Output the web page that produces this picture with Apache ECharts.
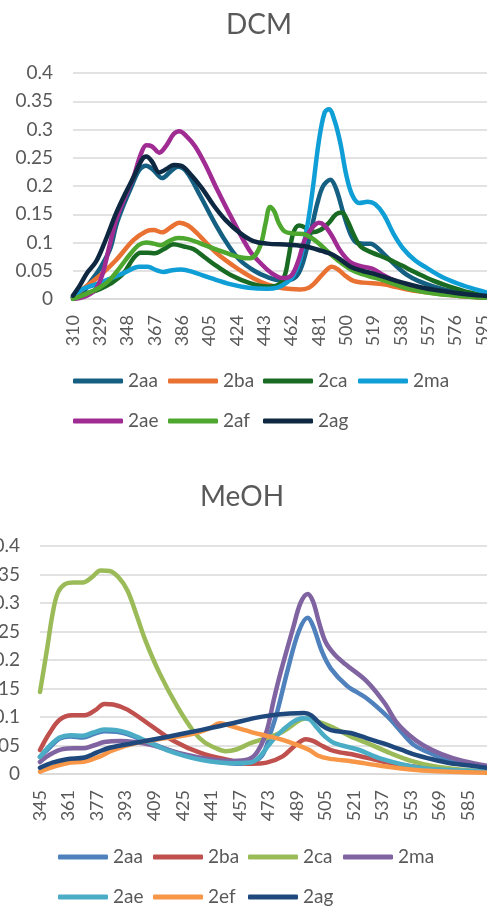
<!DOCTYPE html>
<html>
<head>
<meta charset="utf-8">
<title>DCM / MeOH</title>
<script src="https://cdn.jsdelivr.net/npm/echarts@6/dist/echarts.min.js"></script>
<style>
html,body{margin:0;padding:0;background:#fff}
#chart{width:487px;height:906px}
</style>
</head>
<body>
<div id="chart"></div>
<script>
// wavelength range (nm) of each panel
var dcmStart = 310, dcmEnd = 600;
var meohStart = 345, meohEnd = 600;
var dcmNames = ['2aa', '2ba', '2ca', '2ma', '2ae', '2af', '2ag'];
var meohNames = ['2aa', '2ba', '2ca', '2ma', '2ae', '2ef', '2ag'];
var yTicks = [0, 0.4, 0.05];

// DCM spectra, [nm, absorbance]
var dcm2aa = [[310,0.003],[317,0.012],[322,0.03],[329,0.055],[336,0.09],[340,0.13],[345,0.165],[350,0.195],[356,0.228],[361,0.236],[366,0.228],[372,0.214],[378,0.226],[383,0.234],[389,0.225],[398,0.185],[410,0.128],[418,0.095],[426,0.069],[436,0.05],[445,0.039],[455,0.033],[461,0.034],[466,0.042],[470,0.065],[475,0.115],[480,0.17],[484,0.2],[489,0.211],[493,0.195],[498,0.152],[503,0.115],[507,0.1],[512,0.098],[517,0.098],[522,0.09],[528,0.075],[535,0.058],[542,0.043],[550,0.032],[561,0.022],[575,0.013],[590,0.008],[600,0.005]];
var dcm2ba = [[310,0.003],[319,0.022],[329,0.042],[340,0.069],[352,0.104],[361,0.12],[366,0.122],[372,0.118],[378,0.127],[384,0.135],[390,0.13],[396,0.117],[410,0.081],[426,0.051],[436,0.036],[445,0.026],[456,0.019],[468,0.017],[474,0.02],[478,0.028],[484,0.045],[490,0.057],[494,0.053],[500,0.04],[505,0.032],[512,0.029],[526,0.026],[535,0.021],[549,0.014],[565,0.009],[580,0.005],[600,0.002]];
var dcm2ca = [[310,0.002],[320,0.01],[329,0.018],[336,0.027],[345,0.045],[352,0.072],[357,0.082],[362,0.082],[367,0.081],[373,0.088],[380,0.097],[387,0.093],[394,0.088],[402,0.073],[410,0.058],[420,0.042],[433,0.028],[445,0.022],[452,0.024],[457,0.04],[460,0.075],[463,0.115],[467,0.13],[471,0.127],[476,0.118],[482,0.122],[488,0.135],[493,0.15],[497,0.153],[501,0.138],[505,0.115],[510,0.093],[518,0.082],[528,0.072],[538,0.06],[549,0.046],[560,0.033],[572,0.022],[585,0.012],[600,0.004]];
var dcm2ma = [[310,0.003],[317,0.018],[325,0.025],[336,0.036],[347,0.048],[356,0.057],[362,0.057],[368,0.051],[373,0.048],[379,0.051],[385,0.052],[392,0.049],[407,0.036],[420,0.026],[432,0.02],[445,0.018],[452,0.02],[458,0.028],[463,0.04],[468,0.07],[473,0.13],[477,0.2],[481,0.28],[485,0.33],[488,0.336],[492,0.315],[496,0.275],[500,0.22],[504,0.185],[509,0.17],[515,0.172],[520,0.168],[526,0.15],[533,0.115],[540,0.088],[548,0.068],[556,0.055],[566,0.04],[578,0.027],[590,0.017],[600,0.01]];
var dcm2ae = [[310,0],[318,0.004],[325,0.015],[330,0.04],[335,0.09],[340,0.14],[346,0.18],[352,0.215],[357,0.255],[361,0.272],[365,0.27],[370,0.259],[375,0.272],[380,0.292],[384,0.297],[389,0.288],[395,0.27],[402,0.238],[410,0.195],[421,0.14],[433,0.085],[441,0.062],[448,0.046],[456,0.037],[462,0.042],[467,0.07],[471,0.104],[476,0.125],[481,0.135],[485,0.13],[490,0.112],[496,0.085],[503,0.065],[510,0.058],[518,0.054],[526,0.042],[535,0.031],[548,0.02],[565,0.011],[585,0.005],[600,0.002]];
var dcm2af = [[310,0],[320,0.01],[329,0.021],[336,0.035],[343,0.057],[350,0.08],[356,0.096],[361,0.1],[366,0.098],[371,0.095],[377,0.103],[383,0.108],[390,0.106],[398,0.099],[408,0.089],[417,0.081],[426,0.074],[433,0.072],[437,0.078],[441,0.1],[444,0.135],[447,0.163],[450,0.155],[453,0.135],[457,0.12],[463,0.116],[470,0.115],[476,0.108],[482,0.096],[488,0.082],[496,0.065],[505,0.05],[515,0.041],[525,0.034],[535,0.025],[545,0.017],[560,0.01],[580,0.005],[600,0.002]];
var dcm2ag = [[310,0.006],[315,0.025],[320,0.047],[326,0.066],[332,0.1],[340,0.152],[346,0.185],[352,0.215],[358,0.247],[361,0.252],[365,0.243],[370,0.224],[375,0.23],[380,0.237],[385,0.236],[392,0.22],[400,0.195],[408,0.165],[416,0.14],[426,0.117],[435,0.103],[445,0.098],[460,0.096],[472,0.093],[483,0.085],[491,0.078],[497,0.068],[503,0.057],[511,0.05],[519,0.045],[530,0.036],[542,0.027],[555,0.019],[570,0.013],[585,0.008],[600,0.005]];

// MeOH spectra, [nm, absorbance]
var meoh2aa = [[345,0.03],[350,0.045],[356,0.062],[362,0.066],[369,0.064],[375,0.07],[381,0.075],[388,0.074],[394,0.07],[407,0.054],[425,0.034],[444,0.022],[458,0.018],[465,0.022],[470,0.035],[474,0.07],[478,0.11],[484,0.185],[490,0.25],[495,0.274],[498,0.26],[503,0.215],[508,0.185],[517,0.155],[528,0.133],[540,0.1],[548,0.072],[555,0.05],[565,0.035],[575,0.024],[585,0.017],[600,0.01]];
var meoh2ba = [[345,0.042],[350,0.07],[356,0.095],[363,0.103],[370,0.103],[376,0.112],[381,0.123],[386,0.122],[394,0.113],[408,0.083],[420,0.058],[435,0.037],[450,0.025],[463,0.018],[472,0.02],[481,0.031],[488,0.05],[494,0.061],[498,0.058],[504,0.048],[510,0.04],[522,0.033],[537,0.022],[552,0.014],[570,0.008],[600,0.003]];
var meoh2ca = [[345,0.144],[349,0.22],[352,0.28],[355,0.318],[359,0.333],[364,0.336],[369,0.336],[374,0.345],[379,0.357],[384,0.356],[389,0.345],[394,0.322],[399,0.28],[404,0.235],[412,0.177],[422,0.118],[431,0.075],[437,0.056],[443,0.046],[449,0.04],[455,0.043],[463,0.054],[472,0.063],[481,0.074],[491,0.095],[496,0.098],[500,0.093],[509,0.082],[519,0.066],[530,0.052],[541,0.037],[553,0.023],[565,0.014],[580,0.008],[600,0.004]];
var meoh2ma = [[345,0.021],[350,0.033],[358,0.044],[364,0.045],[369,0.045],[375,0.05],[381,0.056],[390,0.058],[398,0.056],[407,0.051],[425,0.035],[440,0.026],[453,0.023],[462,0.026],[467,0.04],[472,0.075],[476,0.13],[480,0.18],[487,0.258],[491,0.3],[495,0.316],[498,0.303],[501,0.27],[505,0.232],[510,0.21],[516,0.193],[528,0.163],[538,0.125],[545,0.09],[552,0.068],[560,0.05],[570,0.035],[582,0.023],[600,0.012]];
var meoh2ae = [[345,0.03],[350,0.048],[356,0.064],[362,0.068],[369,0.067],[375,0.073],[381,0.078],[388,0.077],[394,0.072],[401,0.063],[416,0.042],[435,0.025],[453,0.019],[463,0.02],[468,0.03],[472,0.046],[477,0.065],[481,0.077],[487,0.092],[492,0.098],[496,0.096],[500,0.082],[505,0.065],[510,0.054],[523,0.043],[537,0.026],[556,0.012],[575,0.007],[600,0.004]];
var meoh2ef = [[345,0.004],[352,0.012],[360,0.019],[370,0.022],[378,0.03],[386,0.042],[401,0.056],[416,0.063],[430,0.07],[440,0.08],[446,0.089],[452,0.084],[463,0.074],[472,0.067],[481,0.06],[490,0.05],[496,0.042],[501,0.032],[507,0.027],[520,0.022],[535,0.015],[556,0.007],[575,0.004],[600,0.002]];
var meoh2ag = [[345,0.011],[352,0.02],[360,0.026],[370,0.029],[377,0.038],[384,0.046],[401,0.056],[416,0.065],[435,0.077],[453,0.089],[465,0.098],[475,0.103],[485,0.106],[493,0.107],[497,0.103],[503,0.085],[508,0.077],[519,0.072],[528,0.063],[537,0.054],[547,0.043],[556,0.033],[566,0.025],[575,0.019],[588,0.014],[600,0.009]];

var dcmColors = ['#156082', '#E97132', '#196B24', '#0F9ED5', '#A02B93', '#4EA72E', '#0E2841'];
var meohColors = ['#4F81BD', '#C0504D', '#9BBB59', '#8064A2', '#4BACC6', '#F79646', '#1F497D'];

var font = 'Lato, "Open Sans", sans-serif';
var grey = '#595959';

var myChart = echarts.init(document.getElementById('chart'));

//类目：每 1 nm 一个
function range(a, b) {
  var arr = [];
  for (var i = a; i <= b; i++) arr.push(String(i));
  return arr;
}
//[nm, y] -> [类目序号, y]
function toIndex(list, start) {
  return list.map(function (p) { return [p[0] - start, p[1]]; });
}

function makeSeries(names, lists, colors, start, idx) {
  return names.map(function (n, i) {
    return {
      name: n,
      type: 'line',
      xAxisIndex: idx,
      yAxisIndex: idx,
      data: toIndex(lists[i], start),
      smooth: 0.35,
      symbol: 'none',
      color: colors[i],
      lineStyle: { width: 4.5, cap: 'round', join: 'round' },
      emphasis: { disabled: true }
    };
  });
}

function xAxis(idx, start, end, step) {
  return {
    type: 'category',
    gridIndex: idx,
    data: range(start, end),
    boundaryGap: false,
    axisTick: { show: false },
    axisLine: { lineStyle: { color: '#D9D9D9', width: 1.5 } },
    axisLabel: {
      interval: step - 1, rotate: 90, margin: 16,
      color: grey, fontFamily: font, fontSize: 18
    },
    splitLine: { show: false }
  };
}

function yAxis(idx) {
  return {
    type: 'value',
    gridIndex: idx,
    min: yTicks[0], max: yTicks[1], interval: yTicks[2],
    axisLine: { show: false },
    axisTick: { show: false },
    axisLabel: { margin: 20, color: grey, fontFamily: font, fontSize: 19 },
    splitLine: { lineStyle: { color: '#D9D9D9', width: 1.5 } }
  };
}

//图例：同名系列在两个图里，颜色逐项指定
function legend(names, colors, left, top) {
  return {
    data: names.map(function (n, i) { return { name: n, itemStyle: { color: colors[i] } }; }),
    left: left, top: top,
    orient: 'horizontal',
    padding: 0,
    itemGap: 4,
    itemWidth: 50,
    itemHeight: 5,
    icon: 'roundRect',
    selectedMode: false,
    textStyle: { color: grey, fontFamily: font, fontSize: 19, width: 36, lineHeight: 24 }
  };
}

var option = {
  animation: false,
  backgroundColor: '#fff',
  title: [
    { text: 'DCM', left: 226, top: 8, padding: 0,
      textStyle: { color: grey, fontFamily: font, fontSize: 28, fontWeight: 'normal', lineHeight: 34 } },
    { text: 'MeOH', left: 200, top: 480, padding: 0,
      textStyle: { color: grey, fontFamily: font, fontSize: 28, fontWeight: 'normal', lineHeight: 34 } }
  ],
  legend: [
    legend(dcmNames.slice(0, 4), dcmColors.slice(0, 4), 73, 369),
    legend(dcmNames.slice(4), dcmColors.slice(4), 73, 409),
    legend(meohNames.slice(0, 4), meohColors.slice(0, 4), 58, 845),
    legend(meohNames.slice(4), meohColors.slice(4), 58, 885)
  ],
  grid: [
    { left: 73, right: -3, top: 73, height: 226, outerBoundsMode: 'none' },
    { left: 40, right: -8, top: 546, height: 228, outerBoundsMode: 'none' }
  ],
  xAxis: [xAxis(0, dcmStart, dcmEnd, 19), xAxis(1, meohStart, meohEnd, 16)],
  yAxis: [yAxis(0), yAxis(1)],
  series: makeSeries(dcmNames, [dcm2aa, dcm2ba, dcm2ca, dcm2ma, dcm2ae, dcm2af, dcm2ag], dcmColors, dcmStart, 0)
    .concat(makeSeries(meohNames, [meoh2aa, meoh2ba, meoh2ca, meoh2ma, meoh2ae, meoh2ef, meoh2ag], meohColors, meohStart, 1))
};
myChart.setOption(option);
</script>
</body>
</html>
